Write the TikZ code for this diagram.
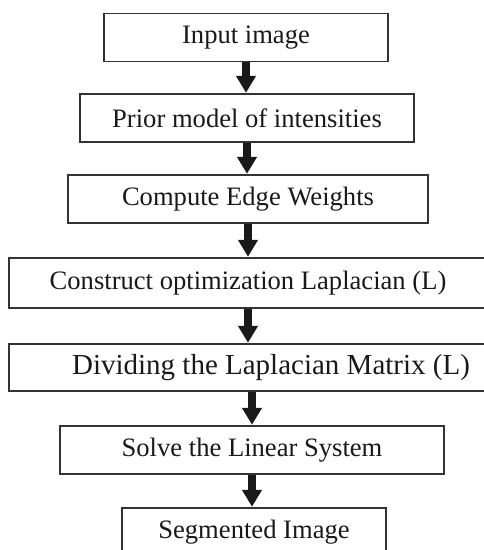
\documentclass[tikz,border=0pt]{standalone}
\usepackage{fontspec}
\setmainfont{Liberation Serif}
\usetikzlibrary{arrows.meta}

\tikzset{
	stage/.style={draw=black!80, line width=1.2pt, rectangle, minimum height=48pt,
		inner sep=0pt, font=\fontsize{26.6}{30}\selectfont, text=black!90},
	flow/.style={line width=8pt, black!90, -{Triangle[width=19pt,length=17pt]}, shorten >=0.6pt}
}

\begin{document}
\begin{tikzpicture}[x=1pt, y=-1pt]
		\useasboundingbox (0,0) rectangle (484,550);

		% processing stages, top to bottom
		\node[stage, minimum width=284pt] (input) at (246,37.5) {Input image};
		\node[stage, minimum width=334pt] (prior) at (247,118) {Prior model of intensities};
		\node[stage, minimum width=360pt] (weights) at (248,199) {Compute Edge Weights};
		\node[stage, minimum width=478pt, minimum height=50pt] (laplace) at (248,283) {Construct optimization Laplacian (L)};
		\node[stage, minimum width=524pt, minimum height=47pt, font=\fontsize{29}{32}\selectfont] (divide) at (271,367.5) {Dividing the Laplacian Matrix (L)};
		\node[stage, minimum width=384pt] (solve) at (252,450) {Solve the Linear System};
		\node[stage, minimum width=264pt] (segment) at (254,532) {Segmented Image};

		% arrows between stages
		\draw[flow] (input.south) -- (input.south |- prior.north);
		\draw[flow] (prior.south) -- (prior.south |- weights.north);
		\draw[flow] (weights.south) -- (weights.south |- laplace.north);
		\draw[flow] (laplace.south) -- (laplace.south |- divide.north);
		\draw[flow] (solve.north |- divide.south) -- (solve.north);
		\draw[flow] (solve.south) -- (solve.south |- segment.north);
	\end{tikzpicture}
\end{document}
